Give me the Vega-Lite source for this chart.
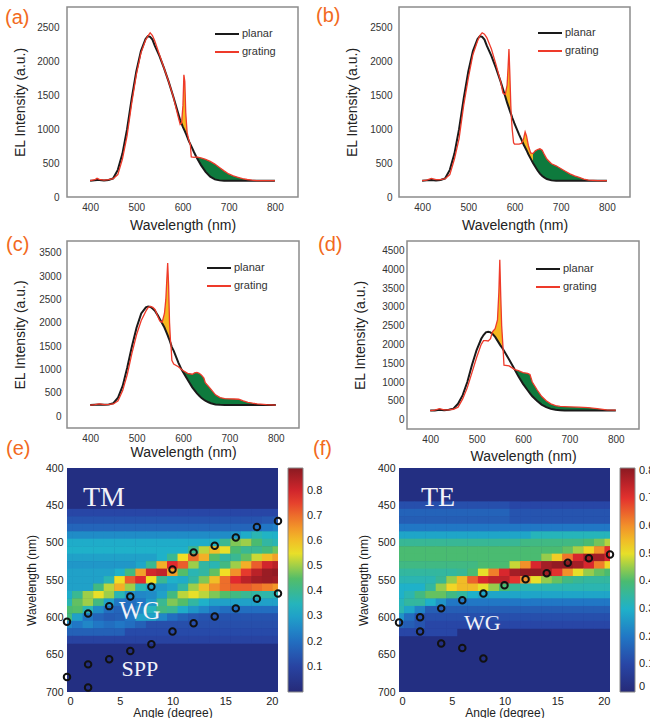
{
"$schema": "https://vega.github.io/schema/vega-lite/v6.json",
"padding": {"left": 4, "top": 5, "right": 0, "bottom": 0},
"background": "white",
"config": {
"font": "Liberation Sans",
"view": {"stroke": "#8c8c8c", "strokeWidth": 1.5},
"axis": {"grid": false, "domain": false, "ticks": false, "labelFontSize": 10, "labelColor": "#333333", "titleFontSize": 14, "titleFontWeight": "normal", "titleColor": "#222222", "labelOverlap": false},
"title": {"fontSize": 20, "color": "#f26a21", "fontWeight": "normal", "anchor": "start", "frame": "group"},
"legend": {"symbolType": "stroke", "symbolSize": 576, "symbolStrokeWidth": 2, "labelFontSize": 11, "labelColor": "#333333", "labelOffset": 2, "padding": 0, "rowPadding": -8}
},
"resolve": {"scale": {"color": "independent", "size": "independent"}},
"datasets": {
"a": [{"x":400,"p":240,"g":240},{"x":410,"p":245,"g":255},{"x":415,"p":250,"g":275},{"x":420,"p":250,"g":260},{"x":430,"p":245,"g":250},{"x":440,"p":250,"g":255},{"x":450,"p":275,"g":270},{"x":460,"p":400,"g":330},{"x":470,"p":640,"g":560},{"x":480,"p":1000,"g":900},{"x":490,"p":1450,"g":1380},{"x":500,"p":1850,"g":1800},{"x":510,"p":2150,"g":2120},{"x":520,"p":2330,"g":2310},{"x":525,"p":2370,"g":2370},{"x":530,"p":2360,"g":2420},{"x":535,"p":2320,"g":2380},{"x":540,"p":2230,"g":2300},{"x":550,"p":2080,"g":2100},{"x":560,"p":1900,"g":1900},{"x":570,"p":1700,"g":1700},{"x":580,"p":1480,"g":1480},{"x":590,"p":1250,"g":1200},{"x":595,"p":1130,"g":1070},{"x":598,"p":1080,"g":1090},{"x":601,"p":1030,"g":1350},{"x":603,"p":1000,"g":1800},{"x":605,"p":970,"g":1700},{"x":607,"p":940,"g":1250},{"x":610,"p":890,"g":950},{"x":614,"p":820,"g":830},{"x":617,"p":780,"g":770},{"x":619,"p":750,"g":590},{"x":625,"p":660,"g":585},{"x":630,"p":590,"g":590},{"x":640,"p":470,"g":575},{"x":650,"p":370,"g":555},{"x":660,"p":300,"g":525},{"x":670,"p":260,"g":485},{"x":680,"p":245,"g":435},{"x":690,"p":240,"g":385},{"x":700,"p":240,"g":340},{"x":710,"p":240,"g":310},{"x":720,"p":240,"g":290},{"x":730,"p":240,"g":270},{"x":740,"p":240,"g":258},{"x":750,"p":240,"g":248},{"x":760,"p":240,"g":242},{"x":780,"p":240,"g":240},{"x":800,"p":240,"g":240}],
"b": [{"x":400,"p":240,"g":240},{"x":410,"p":245,"g":250},{"x":420,"p":250,"g":275},{"x":430,"p":245,"g":255},{"x":440,"p":250,"g":255},{"x":450,"p":275,"g":270},{"x":460,"p":400,"g":330},{"x":470,"p":640,"g":560},{"x":480,"p":1000,"g":860},{"x":490,"p":1450,"g":1350},{"x":500,"p":1850,"g":1750},{"x":510,"p":2150,"g":2100},{"x":520,"p":2330,"g":2300},{"x":525,"p":2370,"g":2380},{"x":530,"p":2360,"g":2420},{"x":535,"p":2320,"g":2400},{"x":540,"p":2230,"g":2350},{"x":550,"p":2080,"g":2180},{"x":560,"p":1900,"g":1950},{"x":570,"p":1700,"g":1700},{"x":575,"p":1590,"g":1530},{"x":580,"p":1480,"g":1510},{"x":584,"p":1390,"g":1650},{"x":586,"p":1350,"g":1900},{"x":588,"p":1310,"g":2180},{"x":590,"p":1270,"g":1800},{"x":592,"p":1230,"g":1350},{"x":593,"p":1215,"g":1200},{"x":595,"p":1170,"g":1000},{"x":598,"p":1120,"g":800},{"x":600,"p":1080,"g":780},{"x":610,"p":920,"g":780},{"x":615,"p":845,"g":790},{"x":618,"p":800,"g":830},{"x":620,"p":770,"g":870},{"x":623,"p":730,"g":960},{"x":626,"p":690,"g":900},{"x":630,"p":630,"g":760},{"x":635,"p":565,"g":650},{"x":640,"p":500,"g":640},{"x":645,"p":445,"g":680},{"x":650,"p":390,"g":700},{"x":655,"p":345,"g":710},{"x":660,"p":310,"g":690},{"x":665,"p":285,"g":620},{"x":670,"p":265,"g":560},{"x":680,"p":245,"g":490},{"x":690,"p":240,"g":460},{"x":700,"p":240,"g":420},{"x":710,"p":240,"g":380},{"x":720,"p":240,"g":340},{"x":730,"p":240,"g":310},{"x":740,"p":240,"g":290},{"x":750,"p":240,"g":265},{"x":760,"p":240,"g":250},{"x":780,"p":240,"g":240},{"x":800,"p":240,"g":240}],
"c": [{"x":400,"p":240,"g":240},{"x":410,"p":245,"g":250},{"x":420,"p":250,"g":265},{"x":430,"p":245,"g":250},{"x":440,"p":255,"g":255},{"x":450,"p":280,"g":265},{"x":460,"p":400,"g":330},{"x":470,"p":650,"g":550},{"x":480,"p":1050,"g":900},{"x":490,"p":1500,"g":1350},{"x":500,"p":1900,"g":1750},{"x":510,"p":2200,"g":2050},{"x":520,"p":2330,"g":2250},{"x":525,"p":2350,"g":2330},{"x":530,"p":2340,"g":2350},{"x":535,"p":2300,"g":2330},{"x":540,"p":2250,"g":2280},{"x":545,"p":2170,"g":2150},{"x":550,"p":2080,"g":2040},{"x":555,"p":1990,"g":2010},{"x":560,"p":1900,"g":2200},{"x":563,"p":1830,"g":2500},{"x":565,"p":1780,"g":2900},{"x":567,"p":1730,"g":3280},{"x":569,"p":1680,"g":2800},{"x":571,"p":1630,"g":2000},{"x":573,"p":1570,"g":1620},{"x":574,"p":1540,"g":1540},{"x":576,"p":1480,"g":1200},{"x":580,"p":1400,"g":1120},{"x":590,"p":1150,"g":1060},{"x":597,"p":1000,"g":1000},{"x":600,"p":950,"g":980},{"x":610,"p":780,"g":920},{"x":620,"p":620,"g":900},{"x":625,"p":555,"g":930},{"x":630,"p":490,"g":940},{"x":635,"p":440,"g":920},{"x":640,"p":390,"g":880},{"x":645,"p":355,"g":820},{"x":648,"p":335,"g":720},{"x":655,"p":300,"g":640},{"x":660,"p":280,"g":580},{"x":670,"p":255,"g":460},{"x":680,"p":245,"g":400},{"x":690,"p":240,"g":380},{"x":700,"p":240,"g":375},{"x":710,"p":240,"g":370},{"x":720,"p":240,"g":365},{"x":730,"p":240,"g":330},{"x":740,"p":240,"g":300},{"x":750,"p":240,"g":280},{"x":760,"p":240,"g":265},{"x":780,"p":240,"g":250},{"x":800,"p":240,"g":240}],
"d": [{"x":400,"p":240,"g":240},{"x":410,"p":245,"g":250},{"x":420,"p":260,"g":290},{"x":430,"p":250,"g":260},{"x":440,"p":260,"g":260},{"x":450,"p":290,"g":275},{"x":460,"p":420,"g":330},{"x":470,"p":650,"g":550},{"x":480,"p":1000,"g":850},{"x":490,"p":1450,"g":1250},{"x":500,"p":1850,"g":1650},{"x":510,"p":2150,"g":2000},{"x":515,"p":2250,"g":2100},{"x":520,"p":2320,"g":2100},{"x":525,"p":2335,"g":2090},{"x":530,"p":2320,"g":2150},{"x":533,"p":2290,"g":2290},{"x":535,"p":2270,"g":2350},{"x":540,"p":2200,"g":2420},{"x":545,"p":2100,"g":2650},{"x":548,"p":2040,"g":3400},{"x":550,"p":2000,"g":4250},{"x":552,"p":1960,"g":3300},{"x":554,"p":1930,"g":2500},{"x":557,"p":1870,"g":1900},{"x":559,"p":1830,"g":1450},{"x":570,"p":1600,"g":1430},{"x":580,"p":1380,"g":1350},{"x":583,"p":1310,"g":1330},{"x":590,"p":1150,"g":1300},{"x":600,"p":950,"g":1250},{"x":610,"p":780,"g":1230},{"x":615,"p":700,"g":1200},{"x":620,"p":620,"g":1000},{"x":630,"p":500,"g":800},{"x":640,"p":400,"g":620},{"x":650,"p":330,"g":500},{"x":660,"p":285,"g":420},{"x":670,"p":260,"g":370},{"x":680,"p":250,"g":350},{"x":690,"p":240,"g":345},{"x":700,"p":240,"g":340},{"x":720,"p":240,"g":330},{"x":740,"p":240,"g":320},{"x":760,"p":240,"g":290},{"x":780,"p":240,"g":260},{"x":800,"p":240,"g":250}],
"tm": [
{"a":0,"w":460,"v":0.11},{"a":1,"w":460,"v":0.11},{"a":2,"w":460,"v":0.11},{"a":3,"w":460,"v":0.11},{"a":4,"w":460,"v":0.11},{"a":5,"w":460,"v":0.11},{"a":6,"w":460,"v":0.11},{"a":7,"w":460,"v":0.11},{"a":8,"w":460,"v":0.11},{"a":9,"w":460,"v":0.11},{"a":10,"w":460,"v":0.11},{"a":11,"w":460,"v":0.11},{"a":12,"w":460,"v":0.11},{"a":13,"w":460,"v":0.11},{"a":14,"w":460,"v":0.11},{"a":15,"w":460,"v":0.11},{"a":16,"w":460,"v":0.11},{"a":17,"w":460,"v":0.11},{"a":18,"w":460,"v":0.11},{"a":19,"w":460,"v":0.11},{"a":20,"w":460,"v":0.11},
{"a":0,"w":470,"v":0.14},{"a":1,"w":470,"v":0.14},{"a":2,"w":470,"v":0.14},{"a":3,"w":470,"v":0.14},{"a":4,"w":470,"v":0.14},{"a":5,"w":470,"v":0.14},{"a":6,"w":470,"v":0.14},{"a":7,"w":470,"v":0.14},{"a":8,"w":470,"v":0.14},{"a":9,"w":470,"v":0.14},{"a":10,"w":470,"v":0.14},{"a":11,"w":470,"v":0.14},{"a":12,"w":470,"v":0.14},{"a":13,"w":470,"v":0.14},{"a":14,"w":470,"v":0.14},{"a":15,"w":470,"v":0.14},{"a":16,"w":470,"v":0.14},{"a":17,"w":470,"v":0.14},{"a":18,"w":470,"v":0.14},{"a":19,"w":470,"v":0.15},{"a":20,"w":470,"v":0.16},
{"a":0,"w":480,"v":0.18},{"a":1,"w":480,"v":0.18},{"a":2,"w":480,"v":0.18},{"a":3,"w":480,"v":0.18},{"a":4,"w":480,"v":0.18},{"a":5,"w":480,"v":0.18},{"a":6,"w":480,"v":0.18},{"a":7,"w":480,"v":0.18},{"a":8,"w":480,"v":0.18},{"a":9,"w":480,"v":0.18},{"a":10,"w":480,"v":0.18},{"a":11,"w":480,"v":0.18},{"a":12,"w":480,"v":0.18},{"a":13,"w":480,"v":0.18},{"a":14,"w":480,"v":0.18},{"a":15,"w":480,"v":0.18},{"a":16,"w":480,"v":0.18},{"a":17,"w":480,"v":0.18},{"a":18,"w":480,"v":0.2},{"a":19,"w":480,"v":0.22},{"a":20,"w":480,"v":0.24},
{"a":0,"w":490,"v":0.26},{"a":1,"w":490,"v":0.26},{"a":2,"w":490,"v":0.26},{"a":3,"w":490,"v":0.26},{"a":4,"w":490,"v":0.26},{"a":5,"w":490,"v":0.26},{"a":6,"w":490,"v":0.26},{"a":7,"w":490,"v":0.26},{"a":8,"w":490,"v":0.26},{"a":9,"w":490,"v":0.26},{"a":10,"w":490,"v":0.26},{"a":11,"w":490,"v":0.26},{"a":12,"w":490,"v":0.26},{"a":13,"w":490,"v":0.26},{"a":14,"w":490,"v":0.26},{"a":15,"w":490,"v":0.26},{"a":16,"w":490,"v":0.28},{"a":17,"w":490,"v":0.32},{"a":18,"w":490,"v":0.36},{"a":19,"w":490,"v":0.34},{"a":20,"w":490,"v":0.33},
{"a":0,"w":500,"v":0.32},{"a":1,"w":500,"v":0.32},{"a":2,"w":500,"v":0.32},{"a":3,"w":500,"v":0.32},{"a":4,"w":500,"v":0.32},{"a":5,"w":500,"v":0.32},{"a":6,"w":500,"v":0.32},{"a":7,"w":500,"v":0.32},{"a":8,"w":500,"v":0.32},{"a":9,"w":500,"v":0.32},{"a":10,"w":500,"v":0.32},{"a":11,"w":500,"v":0.32},{"a":12,"w":500,"v":0.32},{"a":13,"w":500,"v":0.32},{"a":14,"w":500,"v":0.34},{"a":15,"w":500,"v":0.4},{"a":16,"w":500,"v":0.48},{"a":17,"w":500,"v":0.5},{"a":18,"w":500,"v":0.44},{"a":19,"w":500,"v":0.38},{"a":20,"w":500,"v":0.36},
{"a":0,"w":510,"v":0.33},{"a":1,"w":510,"v":0.33},{"a":2,"w":510,"v":0.33},{"a":3,"w":510,"v":0.33},{"a":4,"w":510,"v":0.33},{"a":5,"w":510,"v":0.33},{"a":6,"w":510,"v":0.33},{"a":7,"w":510,"v":0.33},{"a":8,"w":510,"v":0.33},{"a":9,"w":510,"v":0.33},{"a":10,"w":510,"v":0.33},{"a":11,"w":510,"v":0.33},{"a":12,"w":510,"v":0.4},{"a":13,"w":510,"v":0.52},{"a":14,"w":510,"v":0.6},{"a":15,"w":510,"v":0.55},{"a":16,"w":510,"v":0.44},{"a":17,"w":510,"v":0.4},{"a":18,"w":510,"v":0.4},{"a":19,"w":510,"v":0.43},{"a":20,"w":510,"v":0.47},
{"a":0,"w":520,"v":0.3},{"a":1,"w":520,"v":0.3},{"a":2,"w":520,"v":0.3},{"a":3,"w":520,"v":0.3},{"a":4,"w":520,"v":0.3},{"a":5,"w":520,"v":0.3},{"a":6,"w":520,"v":0.3},{"a":7,"w":520,"v":0.3},{"a":8,"w":520,"v":0.3},{"a":9,"w":520,"v":0.33},{"a":10,"w":520,"v":0.4},{"a":11,"w":520,"v":0.56},{"a":12,"w":520,"v":0.7},{"a":13,"w":520,"v":0.62},{"a":14,"w":520,"v":0.45},{"a":15,"w":520,"v":0.38},{"a":16,"w":520,"v":0.4},{"a":17,"w":520,"v":0.46},{"a":18,"w":520,"v":0.53},{"a":19,"w":520,"v":0.6},{"a":20,"w":520,"v":0.64},
{"a":0,"w":530,"v":0.28},{"a":1,"w":530,"v":0.28},{"a":2,"w":530,"v":0.28},{"a":3,"w":530,"v":0.28},{"a":4,"w":530,"v":0.28},{"a":5,"w":530,"v":0.28},{"a":6,"w":530,"v":0.28},{"a":7,"w":530,"v":0.31},{"a":8,"w":530,"v":0.4},{"a":9,"w":530,"v":0.62},{"a":10,"w":530,"v":0.78},{"a":11,"w":530,"v":0.72},{"a":12,"w":530,"v":0.5},{"a":13,"w":530,"v":0.38},{"a":14,"w":530,"v":0.36},{"a":15,"w":530,"v":0.42},{"a":16,"w":530,"v":0.5},{"a":17,"w":530,"v":0.62},{"a":18,"w":530,"v":0.72},{"a":19,"w":530,"v":0.8},{"a":20,"w":530,"v":0.83},
{"a":0,"w":540,"v":0.3},{"a":1,"w":540,"v":0.3},{"a":2,"w":540,"v":0.3},{"a":3,"w":540,"v":0.3},{"a":4,"w":540,"v":0.3},{"a":5,"w":540,"v":0.33},{"a":6,"w":540,"v":0.42},{"a":7,"w":540,"v":0.64},{"a":8,"w":540,"v":0.8},{"a":9,"w":540,"v":0.82},{"a":10,"w":540,"v":0.64},{"a":11,"w":540,"v":0.45},{"a":12,"w":540,"v":0.36},{"a":13,"w":540,"v":0.38},{"a":14,"w":540,"v":0.46},{"a":15,"w":540,"v":0.56},{"a":16,"w":540,"v":0.66},{"a":17,"w":540,"v":0.76},{"a":18,"w":540,"v":0.83},{"a":19,"w":540,"v":0.87},{"a":20,"w":540,"v":0.88},
{"a":0,"w":550,"v":0.3},{"a":1,"w":550,"v":0.3},{"a":2,"w":550,"v":0.3},{"a":3,"w":550,"v":0.3},{"a":4,"w":550,"v":0.36},{"a":5,"w":550,"v":0.56},{"a":6,"w":550,"v":0.72},{"a":7,"w":550,"v":0.78},{"a":8,"w":550,"v":0.56},{"a":9,"w":550,"v":0.4},{"a":10,"w":550,"v":0.33},{"a":11,"w":550,"v":0.32},{"a":12,"w":550,"v":0.38},{"a":13,"w":550,"v":0.48},{"a":14,"w":550,"v":0.6},{"a":15,"w":550,"v":0.7},{"a":16,"w":550,"v":0.78},{"a":17,"w":550,"v":0.83},{"a":18,"w":550,"v":0.86},{"a":19,"w":550,"v":0.87},{"a":20,"w":550,"v":0.86},
{"a":0,"w":560,"v":0.3},{"a":1,"w":560,"v":0.3},{"a":2,"w":560,"v":0.3},{"a":3,"w":560,"v":0.42},{"a":4,"w":560,"v":0.52},{"a":5,"w":560,"v":0.62},{"a":6,"w":560,"v":0.5},{"a":7,"w":560,"v":0.36},{"a":8,"w":560,"v":0.3},{"a":9,"w":560,"v":0.28},{"a":10,"w":560,"v":0.3},{"a":11,"w":560,"v":0.38},{"a":12,"w":560,"v":0.5},{"a":13,"w":560,"v":0.6},{"a":14,"w":560,"v":0.66},{"a":15,"w":560,"v":0.7},{"a":16,"w":560,"v":0.72},{"a":17,"w":560,"v":0.72},{"a":18,"w":560,"v":0.7},{"a":19,"w":560,"v":0.68},{"a":20,"w":560,"v":0.65},
{"a":0,"w":570,"v":0.32},{"a":1,"w":570,"v":0.4},{"a":2,"w":570,"v":0.5},{"a":3,"w":570,"v":0.55},{"a":4,"w":570,"v":0.5},{"a":5,"w":570,"v":0.36},{"a":6,"w":570,"v":0.27},{"a":7,"w":570,"v":0.25},{"a":8,"w":570,"v":0.26},{"a":9,"w":570,"v":0.3},{"a":10,"w":570,"v":0.42},{"a":11,"w":570,"v":0.52},{"a":12,"w":570,"v":0.55},{"a":13,"w":570,"v":0.52},{"a":14,"w":570,"v":0.48},{"a":15,"w":570,"v":0.45},{"a":16,"w":570,"v":0.42},{"a":17,"w":570,"v":0.4},{"a":18,"w":570,"v":0.38},{"a":19,"w":570,"v":0.37},{"a":20,"w":570,"v":0.36},
{"a":0,"w":580,"v":0.36},{"a":1,"w":580,"v":0.46},{"a":2,"w":580,"v":0.5},{"a":3,"w":580,"v":0.42},{"a":4,"w":580,"v":0.3},{"a":5,"w":580,"v":0.22},{"a":6,"w":580,"v":0.2},{"a":7,"w":580,"v":0.22},{"a":8,"w":580,"v":0.28},{"a":9,"w":580,"v":0.4},{"a":10,"w":580,"v":0.48},{"a":11,"w":580,"v":0.45},{"a":12,"w":580,"v":0.38},{"a":13,"w":580,"v":0.33},{"a":14,"w":580,"v":0.3},{"a":15,"w":580,"v":0.3},{"a":16,"w":580,"v":0.3},{"a":17,"w":580,"v":0.3},{"a":18,"w":580,"v":0.3},{"a":19,"w":580,"v":0.3},{"a":20,"w":580,"v":0.3},
{"a":0,"w":590,"v":0.44},{"a":1,"w":590,"v":0.45},{"a":2,"w":590,"v":0.36},{"a":3,"w":590,"v":0.26},{"a":4,"w":590,"v":0.2},{"a":5,"w":590,"v":0.18},{"a":6,"w":590,"v":0.2},{"a":7,"w":590,"v":0.25},{"a":8,"w":590,"v":0.35},{"a":9,"w":590,"v":0.42},{"a":10,"w":590,"v":0.4},{"a":11,"w":590,"v":0.32},{"a":12,"w":590,"v":0.28},{"a":13,"w":590,"v":0.25},{"a":14,"w":590,"v":0.22},{"a":15,"w":590,"v":0.2},{"a":16,"w":590,"v":0.2},{"a":17,"w":590,"v":0.2},{"a":18,"w":590,"v":0.2},{"a":19,"w":590,"v":0.2},{"a":20,"w":590,"v":0.2},
{"a":0,"w":600,"v":0.42},{"a":1,"w":600,"v":0.3},{"a":2,"w":600,"v":0.22},{"a":3,"w":600,"v":0.18},{"a":4,"w":600,"v":0.16},{"a":5,"w":600,"v":0.17},{"a":6,"w":600,"v":0.22},{"a":7,"w":600,"v":0.3},{"a":8,"w":600,"v":0.3},{"a":9,"w":600,"v":0.25},{"a":10,"w":600,"v":0.2},{"a":11,"w":600,"v":0.17},{"a":12,"w":600,"v":0.15},{"a":13,"w":600,"v":0.14},{"a":14,"w":600,"v":0.14},{"a":15,"w":600,"v":0.14},{"a":16,"w":600,"v":0.14},{"a":17,"w":600,"v":0.14},{"a":18,"w":600,"v":0.14},{"a":19,"w":600,"v":0.14},{"a":20,"w":600,"v":0.14},
{"a":0,"w":610,"v":0.25},{"a":1,"w":610,"v":0.22},{"a":2,"w":610,"v":0.25},{"a":3,"w":610,"v":0.22},{"a":4,"w":610,"v":0.2},{"a":5,"w":610,"v":0.22},{"a":6,"w":610,"v":0.2},{"a":7,"w":610,"v":0.17},{"a":8,"w":610,"v":0.13},{"a":9,"w":610,"v":0.13},{"a":10,"w":610,"v":0.13},{"a":11,"w":610,"v":0.13},{"a":12,"w":610,"v":0.13},{"a":13,"w":610,"v":0.13},{"a":14,"w":610,"v":0.13},{"a":15,"w":610,"v":0.13},{"a":16,"w":610,"v":0.13},{"a":17,"w":610,"v":0.13},{"a":18,"w":610,"v":0.13},{"a":19,"w":610,"v":0.13},{"a":20,"w":610,"v":0.13},
{"a":0,"w":620,"v":0.17},{"a":1,"w":620,"v":0.17},{"a":2,"w":620,"v":0.17},{"a":3,"w":620,"v":0.17},{"a":4,"w":620,"v":0.17},{"a":5,"w":620,"v":0.17},{"a":6,"w":620,"v":0.12},{"a":7,"w":620,"v":0.12},{"a":8,"w":620,"v":0.12},{"a":9,"w":620,"v":0.12},{"a":10,"w":620,"v":0.12},{"a":11,"w":620,"v":0.12},{"a":12,"w":620,"v":0.12},{"a":13,"w":620,"v":0.12},{"a":14,"w":620,"v":0.12},{"a":15,"w":620,"v":0.12},{"a":16,"w":620,"v":0.12},{"a":17,"w":620,"v":0.12},{"a":18,"w":620,"v":0.12},{"a":19,"w":620,"v":0.12},{"a":20,"w":620,"v":0.12},
{"a":0,"w":630,"v":0.1},{"a":1,"w":630,"v":0.1},{"a":2,"w":630,"v":0.1},{"a":3,"w":630,"v":0.1},{"a":4,"w":630,"v":0.1},{"a":5,"w":630,"v":0.1},{"a":6,"w":630,"v":0.1},{"a":7,"w":630,"v":0.1},{"a":8,"w":630,"v":0.1},{"a":9,"w":630,"v":0.1},{"a":10,"w":630,"v":0.1},{"a":11,"w":630,"v":0.1},{"a":12,"w":630,"v":0.1},{"a":13,"w":630,"v":0.1},{"a":14,"w":630,"v":0.1},{"a":15,"w":630,"v":0.1},{"a":16,"w":630,"v":0.1},{"a":17,"w":630,"v":0.1},{"a":18,"w":630,"v":0.1},{"a":19,"w":630,"v":0.1},{"a":20,"w":630,"v":0.1}
],
"te": [
{"a":0,"w":450,"v":0.12},{"a":1,"w":450,"v":0.12},{"a":2,"w":450,"v":0.12},{"a":3,"w":450,"v":0.12},{"a":4,"w":450,"v":0.12},{"a":5,"w":450,"v":0.12},{"a":6,"w":450,"v":0.12},{"a":7,"w":450,"v":0.12},{"a":8,"w":450,"v":0.12},{"a":9,"w":450,"v":0.12},{"a":10,"w":450,"v":0.12},{"a":11,"w":450,"v":0.1},{"a":12,"w":450,"v":0.1},{"a":13,"w":450,"v":0.1},{"a":14,"w":450,"v":0.1},{"a":15,"w":450,"v":0.1},{"a":16,"w":450,"v":0.1},{"a":17,"w":450,"v":0.1},{"a":18,"w":450,"v":0.1},{"a":19,"w":450,"v":0.1},{"a":20,"w":450,"v":0.1},
{"a":0,"w":460,"v":0.16},{"a":1,"w":460,"v":0.16},{"a":2,"w":460,"v":0.16},{"a":3,"w":460,"v":0.16},{"a":4,"w":460,"v":0.16},{"a":5,"w":460,"v":0.16},{"a":6,"w":460,"v":0.16},{"a":7,"w":460,"v":0.16},{"a":8,"w":460,"v":0.16},{"a":9,"w":460,"v":0.16},{"a":10,"w":460,"v":0.16},{"a":11,"w":460,"v":0.13},{"a":12,"w":460,"v":0.13},{"a":13,"w":460,"v":0.13},{"a":14,"w":460,"v":0.13},{"a":15,"w":460,"v":0.13},{"a":16,"w":460,"v":0.13},{"a":17,"w":460,"v":0.13},{"a":18,"w":460,"v":0.13},{"a":19,"w":460,"v":0.13},{"a":20,"w":460,"v":0.13},
{"a":0,"w":470,"v":0.15},{"a":1,"w":470,"v":0.15},{"a":2,"w":470,"v":0.15},{"a":3,"w":470,"v":0.15},{"a":4,"w":470,"v":0.15},{"a":5,"w":470,"v":0.15},{"a":6,"w":470,"v":0.15},{"a":7,"w":470,"v":0.15},{"a":8,"w":470,"v":0.15},{"a":9,"w":470,"v":0.15},{"a":10,"w":470,"v":0.15},{"a":11,"w":470,"v":0.13},{"a":12,"w":470,"v":0.13},{"a":13,"w":470,"v":0.13},{"a":14,"w":470,"v":0.13},{"a":15,"w":470,"v":0.13},{"a":16,"w":470,"v":0.13},{"a":17,"w":470,"v":0.13},{"a":18,"w":470,"v":0.13},{"a":19,"w":470,"v":0.13},{"a":20,"w":470,"v":0.13},
{"a":0,"w":480,"v":0.2},{"a":1,"w":480,"v":0.2},{"a":2,"w":480,"v":0.2},{"a":3,"w":480,"v":0.2},{"a":4,"w":480,"v":0.2},{"a":5,"w":480,"v":0.2},{"a":6,"w":480,"v":0.2},{"a":7,"w":480,"v":0.2},{"a":8,"w":480,"v":0.2},{"a":9,"w":480,"v":0.2},{"a":10,"w":480,"v":0.2},{"a":11,"w":480,"v":0.2},{"a":12,"w":480,"v":0.2},{"a":13,"w":480,"v":0.2},{"a":14,"w":480,"v":0.2},{"a":15,"w":480,"v":0.2},{"a":16,"w":480,"v":0.2},{"a":17,"w":480,"v":0.2},{"a":18,"w":480,"v":0.2},{"a":19,"w":480,"v":0.2},{"a":20,"w":480,"v":0.2},
{"a":0,"w":490,"v":0.28},{"a":1,"w":490,"v":0.28},{"a":2,"w":490,"v":0.28},{"a":3,"w":490,"v":0.28},{"a":4,"w":490,"v":0.28},{"a":5,"w":490,"v":0.28},{"a":6,"w":490,"v":0.28},{"a":7,"w":490,"v":0.28},{"a":8,"w":490,"v":0.28},{"a":9,"w":490,"v":0.28},{"a":10,"w":490,"v":0.28},{"a":11,"w":490,"v":0.28},{"a":12,"w":490,"v":0.28},{"a":13,"w":490,"v":0.32},{"a":14,"w":490,"v":0.32},{"a":15,"w":490,"v":0.32},{"a":16,"w":490,"v":0.32},{"a":17,"w":490,"v":0.32},{"a":18,"w":490,"v":0.32},{"a":19,"w":490,"v":0.32},{"a":20,"w":490,"v":0.32},
{"a":0,"w":500,"v":0.36},{"a":1,"w":500,"v":0.36},{"a":2,"w":500,"v":0.36},{"a":3,"w":500,"v":0.36},{"a":4,"w":500,"v":0.36},{"a":5,"w":500,"v":0.36},{"a":6,"w":500,"v":0.36},{"a":7,"w":500,"v":0.36},{"a":8,"w":500,"v":0.36},{"a":9,"w":500,"v":0.36},{"a":10,"w":500,"v":0.36},{"a":11,"w":500,"v":0.36},{"a":12,"w":500,"v":0.38},{"a":13,"w":500,"v":0.38},{"a":14,"w":500,"v":0.38},{"a":15,"w":500,"v":0.38},{"a":16,"w":500,"v":0.38},{"a":17,"w":500,"v":0.38},{"a":18,"w":500,"v":0.4},{"a":19,"w":500,"v":0.43},{"a":20,"w":500,"v":0.47},
{"a":0,"w":510,"v":0.4},{"a":1,"w":510,"v":0.4},{"a":2,"w":510,"v":0.4},{"a":3,"w":510,"v":0.4},{"a":4,"w":510,"v":0.4},{"a":5,"w":510,"v":0.4},{"a":6,"w":510,"v":0.4},{"a":7,"w":510,"v":0.4},{"a":8,"w":510,"v":0.4},{"a":9,"w":510,"v":0.4},{"a":10,"w":510,"v":0.4},{"a":11,"w":510,"v":0.4},{"a":12,"w":510,"v":0.4},{"a":13,"w":510,"v":0.4},{"a":14,"w":510,"v":0.4},{"a":15,"w":510,"v":0.4},{"a":16,"w":510,"v":0.42},{"a":17,"w":510,"v":0.46},{"a":18,"w":510,"v":0.52},{"a":19,"w":510,"v":0.6},{"a":20,"w":510,"v":0.7},
{"a":0,"w":520,"v":0.4},{"a":1,"w":520,"v":0.4},{"a":2,"w":520,"v":0.4},{"a":3,"w":520,"v":0.4},{"a":4,"w":520,"v":0.4},{"a":5,"w":520,"v":0.4},{"a":6,"w":520,"v":0.4},{"a":7,"w":520,"v":0.4},{"a":8,"w":520,"v":0.4},{"a":9,"w":520,"v":0.4},{"a":10,"w":520,"v":0.4},{"a":11,"w":520,"v":0.4},{"a":12,"w":520,"v":0.4},{"a":13,"w":520,"v":0.4},{"a":14,"w":520,"v":0.45},{"a":15,"w":520,"v":0.53},{"a":16,"w":520,"v":0.63},{"a":17,"w":520,"v":0.72},{"a":18,"w":520,"v":0.78},{"a":19,"w":520,"v":0.78},{"a":20,"w":520,"v":0.72},
{"a":0,"w":530,"v":0.38},{"a":1,"w":530,"v":0.38},{"a":2,"w":530,"v":0.38},{"a":3,"w":530,"v":0.38},{"a":4,"w":530,"v":0.38},{"a":5,"w":530,"v":0.38},{"a":6,"w":530,"v":0.38},{"a":7,"w":530,"v":0.38},{"a":8,"w":530,"v":0.4},{"a":9,"w":530,"v":0.4},{"a":10,"w":530,"v":0.4},{"a":11,"w":530,"v":0.48},{"a":12,"w":530,"v":0.6},{"a":13,"w":530,"v":0.72},{"a":14,"w":530,"v":0.78},{"a":15,"w":530,"v":0.8},{"a":16,"w":530,"v":0.8},{"a":17,"w":530,"v":0.78},{"a":18,"w":530,"v":0.72},{"a":19,"w":530,"v":0.62},{"a":20,"w":530,"v":0.52},
{"a":0,"w":540,"v":0.35},{"a":1,"w":540,"v":0.35},{"a":2,"w":540,"v":0.35},{"a":3,"w":540,"v":0.35},{"a":4,"w":540,"v":0.35},{"a":5,"w":540,"v":0.35},{"a":6,"w":540,"v":0.36},{"a":7,"w":540,"v":0.4},{"a":8,"w":540,"v":0.5},{"a":9,"w":540,"v":0.62},{"a":10,"w":540,"v":0.72},{"a":11,"w":540,"v":0.78},{"a":12,"w":540,"v":0.8},{"a":13,"w":540,"v":0.8},{"a":14,"w":540,"v":0.78},{"a":15,"w":540,"v":0.7},{"a":16,"w":540,"v":0.6},{"a":17,"w":540,"v":0.5},{"a":18,"w":540,"v":0.45},{"a":19,"w":540,"v":0.42},{"a":20,"w":540,"v":0.4},
{"a":0,"w":550,"v":0.33},{"a":1,"w":550,"v":0.33},{"a":2,"w":550,"v":0.33},{"a":3,"w":550,"v":0.33},{"a":4,"w":550,"v":0.36},{"a":5,"w":550,"v":0.45},{"a":6,"w":550,"v":0.55},{"a":7,"w":550,"v":0.65},{"a":8,"w":550,"v":0.72},{"a":9,"w":550,"v":0.75},{"a":10,"w":550,"v":0.75},{"a":11,"w":550,"v":0.7},{"a":12,"w":550,"v":0.6},{"a":13,"w":550,"v":0.5},{"a":14,"w":550,"v":0.45},{"a":15,"w":550,"v":0.42},{"a":16,"w":550,"v":0.38},{"a":17,"w":550,"v":0.36},{"a":18,"w":550,"v":0.35},{"a":19,"w":550,"v":0.35},{"a":20,"w":550,"v":0.35},
{"a":0,"w":560,"v":0.3},{"a":1,"w":560,"v":0.3},{"a":2,"w":560,"v":0.3},{"a":3,"w":560,"v":0.35},{"a":4,"w":560,"v":0.45},{"a":5,"w":560,"v":0.52},{"a":6,"w":560,"v":0.55},{"a":7,"w":560,"v":0.55},{"a":8,"w":560,"v":0.5},{"a":9,"w":560,"v":0.45},{"a":10,"w":560,"v":0.4},{"a":11,"w":560,"v":0.36},{"a":12,"w":560,"v":0.33},{"a":13,"w":560,"v":0.33},{"a":14,"w":560,"v":0.33},{"a":15,"w":560,"v":0.33},{"a":16,"w":560,"v":0.33},{"a":17,"w":560,"v":0.33},{"a":18,"w":560,"v":0.33},{"a":19,"w":560,"v":0.33},{"a":20,"w":560,"v":0.33},
{"a":0,"w":570,"v":0.3},{"a":1,"w":570,"v":0.33},{"a":2,"w":570,"v":0.38},{"a":3,"w":570,"v":0.42},{"a":4,"w":570,"v":0.42},{"a":5,"w":570,"v":0.38},{"a":6,"w":570,"v":0.35},{"a":7,"w":570,"v":0.3},{"a":8,"w":570,"v":0.28},{"a":9,"w":570,"v":0.28},{"a":10,"w":570,"v":0.28},{"a":11,"w":570,"v":0.28},{"a":12,"w":570,"v":0.28},{"a":13,"w":570,"v":0.28},{"a":14,"w":570,"v":0.28},{"a":15,"w":570,"v":0.28},{"a":16,"w":570,"v":0.28},{"a":17,"w":570,"v":0.28},{"a":18,"w":570,"v":0.28},{"a":19,"w":570,"v":0.28},{"a":20,"w":570,"v":0.28},
{"a":0,"w":580,"v":0.32},{"a":1,"w":580,"v":0.35},{"a":2,"w":580,"v":0.35},{"a":3,"w":580,"v":0.3},{"a":4,"w":580,"v":0.25},{"a":5,"w":580,"v":0.2},{"a":6,"w":580,"v":0.2},{"a":7,"w":580,"v":0.2},{"a":8,"w":580,"v":0.2},{"a":9,"w":580,"v":0.2},{"a":10,"w":580,"v":0.2},{"a":11,"w":580,"v":0.2},{"a":12,"w":580,"v":0.2},{"a":13,"w":580,"v":0.2},{"a":14,"w":580,"v":0.2},{"a":15,"w":580,"v":0.2},{"a":16,"w":580,"v":0.2},{"a":17,"w":580,"v":0.2},{"a":18,"w":580,"v":0.2},{"a":19,"w":580,"v":0.2},{"a":20,"w":580,"v":0.2},
{"a":0,"w":590,"v":0.33},{"a":1,"w":590,"v":0.28},{"a":2,"w":590,"v":0.22},{"a":3,"w":590,"v":0.15},{"a":4,"w":590,"v":0.15},{"a":5,"w":590,"v":0.15},{"a":6,"w":590,"v":0.15},{"a":7,"w":590,"v":0.15},{"a":8,"w":590,"v":0.15},{"a":9,"w":590,"v":0.15},{"a":10,"w":590,"v":0.15},{"a":11,"w":590,"v":0.15},{"a":12,"w":590,"v":0.15},{"a":13,"w":590,"v":0.15},{"a":14,"w":590,"v":0.15},{"a":15,"w":590,"v":0.15},{"a":16,"w":590,"v":0.15},{"a":17,"w":590,"v":0.15},{"a":18,"w":590,"v":0.15},{"a":19,"w":590,"v":0.15},{"a":20,"w":590,"v":0.15},
{"a":0,"w":600,"v":0.25},{"a":1,"w":600,"v":0.18},{"a":2,"w":600,"v":0.12},{"a":3,"w":600,"v":0.12},{"a":4,"w":600,"v":0.12},{"a":5,"w":600,"v":0.12},{"a":6,"w":600,"v":0.12},{"a":7,"w":600,"v":0.12},{"a":8,"w":600,"v":0.12},{"a":9,"w":600,"v":0.12},{"a":10,"w":600,"v":0.12},{"a":11,"w":600,"v":0.12},{"a":12,"w":600,"v":0.12},{"a":13,"w":600,"v":0.12},{"a":14,"w":600,"v":0.12},{"a":15,"w":600,"v":0.12},{"a":16,"w":600,"v":0.12},{"a":17,"w":600,"v":0.12},{"a":18,"w":600,"v":0.12},{"a":19,"w":600,"v":0.12},{"a":20,"w":600,"v":0.12},
{"a":0,"w":610,"v":0.16},{"a":1,"w":610,"v":0.15},{"a":2,"w":610,"v":0.13},{"a":3,"w":610,"v":0.1},{"a":4,"w":610,"v":0.1},{"a":5,"w":610,"v":0.1},{"a":6,"w":610,"v":0.1},{"a":7,"w":610,"v":0.1},{"a":8,"w":610,"v":0.1},{"a":9,"w":610,"v":0.1},{"a":10,"w":610,"v":0.1},{"a":11,"w":610,"v":0.1},{"a":12,"w":610,"v":0.1},{"a":13,"w":610,"v":0.1},{"a":14,"w":610,"v":0.1},{"a":15,"w":610,"v":0.1},{"a":16,"w":610,"v":0.1},{"a":17,"w":610,"v":0.1},{"a":18,"w":610,"v":0.1},{"a":19,"w":610,"v":0.1},{"a":20,"w":610,"v":0.1},
{"a":0,"w":620,"v":0.1},{"a":1,"w":620,"v":0.1},{"a":2,"w":620,"v":0.1},{"a":3,"w":620,"v":0.1},{"a":4,"w":620,"v":0.1},{"a":5,"w":620,"v":0.1}
],
"tmc": [{"a":0,"w":606},{"a":2,"w":595},{"a":4,"w":585},{"a":6,"w":572},{"a":8,"w":559},{"a":10,"w":536},{"a":12,"w":513},{"a":14,"w":504},{"a":16,"w":493},{"a":18,"w":479},{"a":20,"w":471},{"a":0,"w":680},{"a":2,"w":694},{"a":2,"w":663},{"a":4,"w":656},{"a":6,"w":645},{"a":8,"w":636},{"a":10,"w":619},{"a":12,"w":608},{"a":14,"w":599},{"a":16,"w":588},{"a":18,"w":575},{"a":20,"w":568}],
"tec": [{"a":0,"w":607},{"a":2,"w":600},{"a":2,"w":619},{"a":4,"w":588},{"a":4,"w":635},{"a":6,"w":577},{"a":6,"w":641},{"a":8,"w":568},{"a":8,"w":655},{"a":10,"w":557},{"a":12,"w":549},{"a":14,"w":541},{"a":16,"w":527},{"a":18,"w":521},{"a":20,"w":516}],
"tmt": [{"a":3.5,"w":440,"t":"TM"},{"a":6.9,"w":591,"t":"WG"},{"a":6.9,"w":669,"t":"SPP"}],
"tet": [{"a":3.7,"w":440,"t":"TE"},{"a":7.9,"w":607,"t":"WG"}]
},
"columns": 1,
"align": "none",
"spacing": -25,
"concat": [
{"vconcat": [
{"hconcat": [
{"title": {"text": "(a)", "dx": -62, "offset": -21},
"width": 231, "height": 190, "data": {"name": "a"},
"encoding": {
"x": {"field": "x", "type": "quantitative", "scale": {"domain": [350, 850], "nice": false}, "axis": {"values": [400,500,600,700,800], "title": "Wavelength (nm)", "labelPadding": 5, "titleY": 21}},
"y": {"field": "g", "type": "quantitative", "scale": {"domain": [0, 2800], "nice": false}, "title": "EL Intensity (a.u.)", "axis": {"values": [0,500,1000,1500,2000,2500], "format": "d", "labelPadding": 8, "titleX": -40, "labelOverlap": false}}
},
"layer": [
{"transform": [{"filter": "datum.x >= 597 && datum.x <= 617"}], "mark": {"type": "area", "color": "#f5b71f"}, "encoding": {"y2": {"field": "p"}}},
{"transform": [{"filter": "datum.x >= 630 && datum.x <= 760"}], "mark": {"type": "area", "color": "#0e7a3d"}, "encoding": {"y2": {"field": "p"}}},
{"mark": {"type": "line", "strokeWidth": 2}, "encoding": {"y": {"field": "p", "type": "quantitative", "scale": {"domain": [0, 2800], "nice": false}, "title": "EL Intensity (a.u.)", "axis": {"values": [0,500,1000,1500,2000,2500], "format": "d", "labelPadding": 8, "titleX": -40, "labelOverlap": false}}, "color": {"datum": "planar", "scale": {"domain": ["planar", "grating"], "range": ["#1a1a1a", "#ee3a2a"]}, "legend": {"title": null, "orient": "none", "legendX": 147, "legendY": 14}}}},
{"mark": {"type": "line", "strokeWidth": 1.3}, "encoding": {"color": {"datum": "grating", "scale": {"domain": ["planar", "grating"], "range": ["#1a1a1a", "#ee3a2a"]}, "legend": {"title": null, "orient": "none", "legendX": 147, "legendY": 14}}}}
]},
{"title": {"text": "(b)", "dx": -83, "offset": -19},
"width": 231, "height": 190, "data": {"name": "b"},
"encoding": {
"x": {"field": "x", "type": "quantitative", "scale": {"domain": [350, 850], "nice": false}, "axis": {"values": [400,500,600,700,800], "title": "Wavelength (nm)", "labelPadding": 5, "titleY": 21}},
"y": {"field": "g", "type": "quantitative", "scale": {"domain": [0, 2800], "nice": false}, "title": "EL Intensity (a.u.)", "axis": {"values": [0,500,1000,1500,2000,2500], "format": "d", "labelPadding": 7, "titleX": -40, "labelOverlap": false}}
},
"layer": [
{"transform": [{"filter": "datum.x >= 580 && datum.x <= 593"}], "mark": {"type": "area", "color": "#f5b71f"}, "encoding": {"y2": {"field": "p"}}},
{"transform": [{"filter": "datum.x >= 618 && datum.x <= 640"}], "mark": {"type": "area", "color": "#f5b71f"}, "encoding": {"y2": {"field": "p"}}},
{"transform": [{"filter": "datum.x >= 640 && datum.x <= 760"}], "mark": {"type": "area", "color": "#0e7a3d"}, "encoding": {"y2": {"field": "p"}}},
{"mark": {"type": "line", "strokeWidth": 2}, "encoding": {"y": {"field": "p", "type": "quantitative", "scale": {"domain": [0, 2800], "nice": false}, "title": "EL Intensity (a.u.)", "axis": {"values": [0,500,1000,1500,2000,2500], "format": "d", "labelPadding": 7, "titleX": -40, "labelOverlap": false}}, "color": {"datum": "planar", "scale": {"domain": ["planar", "grating"], "range": ["#1a1a1a", "#ee3a2a"]}, "legend": {"title": null, "orient": "none", "legendX": 138, "legendY": 13}}}},
{"mark": {"type": "line", "strokeWidth": 1.3}, "encoding": {"color": {"datum": "grating", "scale": {"domain": ["planar", "grating"], "range": ["#1a1a1a", "#ee3a2a"]}, "legend": {"title": null, "orient": "none", "legendX": 138, "legendY": 13}}}}
]}
], "spacing": 16, "resolve": {"scale": {"color": "independent"}}},
{"hconcat": [
{"title": {"text": "(c)", "dx": -61, "offset": -14},
"width": 232, "height": 187, "data": {"name": "c"},
"encoding": {
"x": {"field": "x", "type": "quantitative", "scale": {"domain": [350, 850], "nice": false}, "axis": {"values": [400,500,600,700,800], "title": "Wavelength (nm)", "labelPadding": 5, "titleY": 17}},
"y": {"field": "g", "type": "quantitative", "scale": {"domain": [-250, 3750], "nice": false}, "title": "EL Intensity (a.u.)", "axis": {"values": [0,500,1000,1500,2000,2500,3000,3500], "format": "d", "labelPadding": 6, "titleX": -40, "labelOverlap": false}}
},
"layer": [
{"transform": [{"filter": "datum.x >= 555 && datum.x <= 574"}], "mark": {"type": "area", "color": "#f5b71f"}, "encoding": {"y2": {"field": "p"}}},
{"transform": [{"filter": "datum.x >= 597 && datum.x <= 760"}], "mark": {"type": "area", "color": "#0e7a3d"}, "encoding": {"y2": {"field": "p"}}},
{"mark": {"type": "line", "strokeWidth": 2}, "encoding": {"y": {"field": "p", "type": "quantitative", "scale": {"domain": [-250, 3750], "nice": false}, "title": "EL Intensity (a.u.)", "axis": {"values": [0,500,1000,1500,2000,2500,3000,3500], "format": "d", "labelPadding": 6, "titleX": -40, "labelOverlap": false}}, "color": {"datum": "planar", "scale": {"domain": ["planar", "grating"], "range": ["#1a1a1a", "#ee3a2a"]}, "legend": {"title": null, "orient": "none", "legendX": 139, "legendY": 14}}}},
{"mark": {"type": "line", "strokeWidth": 1.3}, "encoding": {"color": {"datum": "grating", "scale": {"domain": ["planar", "grating"], "range": ["#1a1a1a", "#ee3a2a"]}, "legend": {"title": null, "orient": "none", "legendX": 139, "legendY": 14}}}}
]},
{"title": {"text": "(d)", "dx": -89, "offset": -14},
"width": 232, "height": 188, "data": {"name": "d"},
"encoding": {
"x": {"field": "x", "type": "quantitative", "scale": {"domain": [350, 850], "nice": false}, "axis": {"values": [400,500,600,700,800], "title": "Wavelength (nm)", "labelPadding": 5, "titleY": 20}},
"y": {"field": "g", "type": "quantitative", "scale": {"domain": [-250, 4750], "nice": false}, "title": "EL Intensity (a.u.)", "axis": {"values": [0,500,1000,1500,2000,2500,3000,3500,4000,4500], "format": "d", "labelPadding": 3, "titleX": -40, "labelOverlap": false}}
},
"layer": [
{"transform": [{"filter": "datum.x >= 533 && datum.x <= 557"}], "mark": {"type": "area", "color": "#f5b71f"}, "encoding": {"y2": {"field": "p"}}},
{"transform": [{"filter": "datum.x >= 583 && datum.x <= 780"}], "mark": {"type": "area", "color": "#0e7a3d"}, "encoding": {"y2": {"field": "p"}}},
{"mark": {"type": "line", "strokeWidth": 2}, "encoding": {"y": {"field": "p", "type": "quantitative", "scale": {"domain": [-250, 4750], "nice": false}, "title": "EL Intensity (a.u.)", "axis": {"values": [0,500,1000,1500,2000,2500,3000,3500,4000,4500], "format": "d", "labelPadding": 3, "titleX": -40, "labelOverlap": false}}, "color": {"datum": "planar", "scale": {"domain": ["planar", "grating"], "range": ["#1a1a1a", "#ee3a2a"]}, "legend": {"title": null, "orient": "none", "legendX": 128, "legendY": 15}}}},
{"mark": {"type": "line", "strokeWidth": 1.3}, "encoding": {"color": {"datum": "grating", "scale": {"domain": ["planar", "grating"], "range": ["#1a1a1a", "#ee3a2a"]}, "legend": {"title": null, "orient": "none", "legendX": 128, "legendY": 15}}}}
]}
], "spacing": 17, "resolve": {"scale": {"color": "independent"}}}
], "spacing": 1, "resolve": {"scale": {"color": "independent"}}},
{"hconcat": [
{"title": {"text": "(e)", "dx": -61, "offset": 4},
"width": 211, "height": 224,
"view": {"stroke": null, "fill": "#232f82"},
"encoding": {
"x": {"field": "a", "type": "quantitative", "scale": {"domain": [0, 20], "nice": false}, "axis": {"values": [0,5,10,15,20], "title": "Angle (degree)", "titleFontSize": 12, "labelFontSize": 11, "labelPadding": 3, "titleY": 15, "labelColor": "#222222"}},
"y": {"field": "w", "type": "quantitative", "scale": {"domain": [400, 700], "nice": false, "reverse": true}, "axis": {"values": [400,450,500,550,600,650,700], "title": "Wavelength (nm)", "titleFontSize": 12, "labelFontSize": 10.5, "labelPadding": 4, "titleX": -29, "labelColor": "#222222"}}
},
"layer": [
{"data": {"name": "tm"}, "mark": {"type": "rect", "width": 11, "height": 7.9, "clip": true}, "encoding": {"color": {"field": "v", "type": "quantitative", "scale": {"domain": [0, 0.111, 0.222, 0.334, 0.445, 0.556, 0.668, 0.779, 0.89], "range": ["#262a78", "#2846a6", "#2178c6", "#1fb3c9", "#4cbb6c", "#f1e125", "#f28a2a", "#e2292e", "#8a1a22"], "interpolate": "rgb"}, "legend": {"orient": "right", "offset": 10, "title": null, "direction": "vertical", "gradientLength": 224, "gradientThickness": 15, "values": [0.1,0.2,0.3,0.4,0.5,0.6,0.7,0.8], "format": ".1~f", "labelFontSize": 11, "labelOffset": 4, "padding": 0, "labelOverlap": false, "gradientStrokeColor": "#888888", "gradientStrokeWidth": 1, "labelColor": "#222222"}}}},
{"data": {"name": "tmc"}, "mark": {"type": "point", "shape": "circle", "filled": false, "color": "#111111", "strokeWidth": 2, "size": 42, "opacity": 1}},
{"data": {"name": "tmt"}, "mark": {"type": "text", "font": "Liberation Serif", "color": "#f2f2f8", "align": "center", "baseline": "middle"}, "encoding": {"text": {"field": "t"}, "size": {"field": "t", "type": "ordinal", "scale": {"domain": ["TM", "WG", "SPP"], "range": [28, 22, 22]}, "legend": null}}}
]},
{"title": {"text": "(f)", "dx": -86, "offset": 4},
"width": 211, "height": 224,
"view": {"stroke": null, "fill": "#232f82"},
"encoding": {
"x": {"field": "a", "type": "quantitative", "scale": {"domain": [0, 20], "nice": false}, "axis": {"values": [0,5,10,15,20], "title": "Angle (degree)", "titleFontSize": 12, "labelFontSize": 11, "labelPadding": 3, "titleY": 15, "labelColor": "#222222"}},
"y": {"field": "w", "type": "quantitative", "scale": {"domain": [400, 700], "nice": false, "reverse": true}, "axis": {"values": [400,450,500,550,600,650,700], "title": "Wavelength (nm)", "titleFontSize": 12, "labelFontSize": 10.5, "labelPadding": 4, "titleX": -29, "labelColor": "#222222"}}
},
"layer": [
{"data": {"name": "te"}, "mark": {"type": "rect", "width": 11, "height": 7.9, "clip": true}, "encoding": {"color": {"field": "v", "type": "quantitative", "scale": {"domain": [0, 0.101, 0.2025, 0.304, 0.405, 0.506, 0.608, 0.709, 0.81], "range": ["#262a78", "#2846a6", "#2178c6", "#1fb3c9", "#4cbb6c", "#f1e125", "#f28a2a", "#e2292e", "#8a1a22"], "interpolate": "rgb"}, "legend": {"orient": "right", "offset": 10, "title": null, "direction": "vertical", "gradientLength": 224, "gradientThickness": 15, "values": [0,0.1,0.2,0.3,0.4,0.5,0.6,0.7,0.8], "format": ".1~f", "labelFontSize": 11, "labelOffset": 4, "padding": 0, "labelOverlap": false, "gradientStrokeColor": "#888888", "gradientStrokeWidth": 1, "labelColor": "#222222"}}}},
{"data": {"name": "tec"}, "mark": {"type": "point", "shape": "circle", "filled": false, "color": "#111111", "strokeWidth": 2, "size": 42, "opacity": 1}},
{"data": {"name": "tet"}, "mark": {"type": "text", "font": "Liberation Serif", "color": "#f2f2f8", "align": "center", "baseline": "middle"}, "encoding": {"text": {"field": "t"}, "size": {"field": "t", "type": "ordinal", "scale": {"domain": ["TE", "WG"], "range": [28, 22]}, "legend": null}}}
]}
], "spacing": -10, "resolve": {"scale": {"color": "independent", "size": "independent"}}}
]
}
